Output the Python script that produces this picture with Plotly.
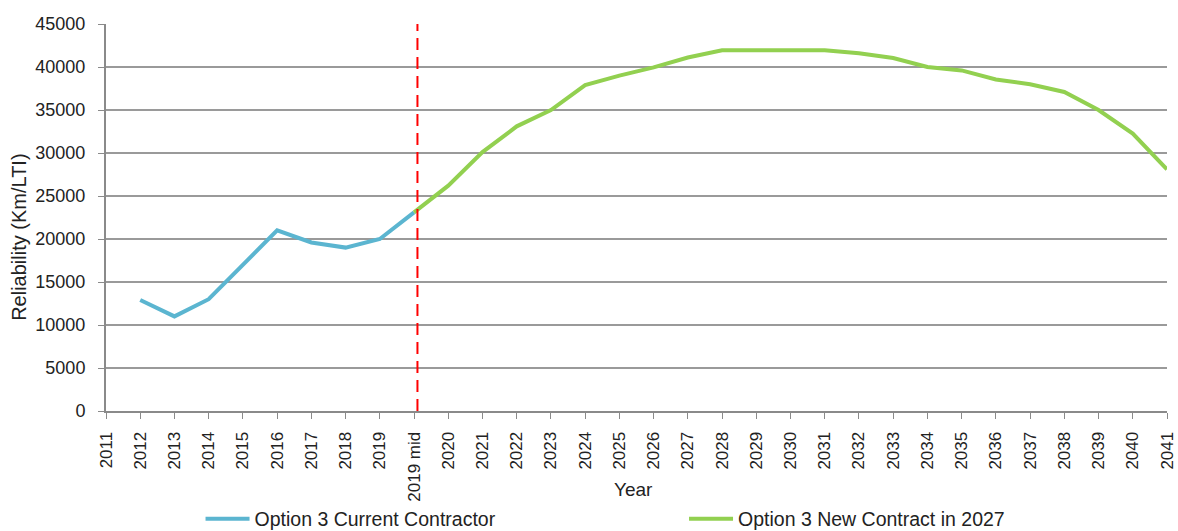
import plotly.graph_objects as go

# Category labels along the time axis
years = [str(y) for y in range(2011, 2020)] + ["2019 mid"] + [str(y) for y in range(2020, 2042)]

# Reliability (Km per lost-time injury)
current_contractor = [None, 12900, 11000, 13000, 17000, 21000, 19600, 19000, 20000, 23100] + [None] * 22
new_contract_2027 = [None] * 9 + [23100, 26200, 30100, 33100, 35000, 37900, 39000, 39950, 41100,
                                  41950, 41950, 41950, 41950, 41600, 41050, 40000, 39600, 38550,
                                  38000, 37100, 35000, 32250, 28100]

# Marker for the mid-2019 changeover (category index)
changeover_pos = 9.1

font_family = "Liberation Sans, Arial, sans-serif"
axis_grey = "#8a8a8a"

fig = go.Figure()
fig.add_trace(go.Scatter(
    x=years, y=current_contractor, mode="lines",
    name="Option 3 Current Contractor",
    line=dict(color="#5bb5d0", width=4),
    legend="legend",
))
fig.add_trace(go.Scatter(
    x=years, y=new_contract_2027, mode="lines",
    name="Option 3 New Contract in 2027",
    line=dict(color="#92d050", width=4),
    legend="legend2",
))

fig.add_shape(
    type="line", xref="x", yref="paper",
    x0=changeover_pos, x1=changeover_pos, y0=0, y1=1,
    line=dict(color="#ff0000", width=2, dash="12px,7px"),
)

# Axis titles drawn as annotations so they can sit beside the tick labels
fig.add_annotation(
    text="Year", xref="paper", yref="paper", x=0.497, y=-0.204,
    xanchor="center", yanchor="middle", showarrow=False,
    font=dict(size=19),
)
fig.add_annotation(
    text="Reliability (Km/LTI)", xref="paper", yref="paper", x=-0.082, y=0.45,
    xanchor="center", yanchor="middle", showarrow=False, textangle=-90,
    font=dict(size=20),
)

legend_style = dict(
    orientation="h", yanchor="middle", xanchor="left",
    font=dict(size=19.5), bgcolor="rgba(0,0,0,0)", itemwidth=44,
)

fig.update_layout(
    width=1178, height=531,
    margin=dict(l=106, r=11, t=24, b=120, autoexpand=False),
    paper_bgcolor="white", plot_bgcolor="white",
    font=dict(family=font_family, size=17, color="#222222"),
    showlegend=True,
    legend=dict(x=0.0891, y=-0.279, **legend_style),
    legend2=dict(x=0.5448, y=-0.279, **legend_style),
    xaxis=dict(
        type="category", categoryorder="array", categoryarray=years,
        range=[0, len(years) - 1], automargin=False,
        tickangle=-90, ticks="outside", ticklen=6, tickcolor=axis_grey,
        ticklabelstandoff=6,
        showline=True, linecolor=axis_grey, linewidth=2,
        showgrid=False, zeroline=False,
        tickfont=dict(size=17),
    ),
    yaxis=dict(
        range=[0, 45000], dtick=5000, tickformat="d", automargin=False,
        ticks="outside", ticklen=6, tickcolor=axis_grey,
        ticklabelstandoff=9,
        showline=True, linecolor=axis_grey, linewidth=2,
        showgrid=True, gridcolor="#9a9a9a", gridwidth=1.5,
        zeroline=False,
        tickfont=dict(size=18),
    ),
)

fig.write_html("out.html")
